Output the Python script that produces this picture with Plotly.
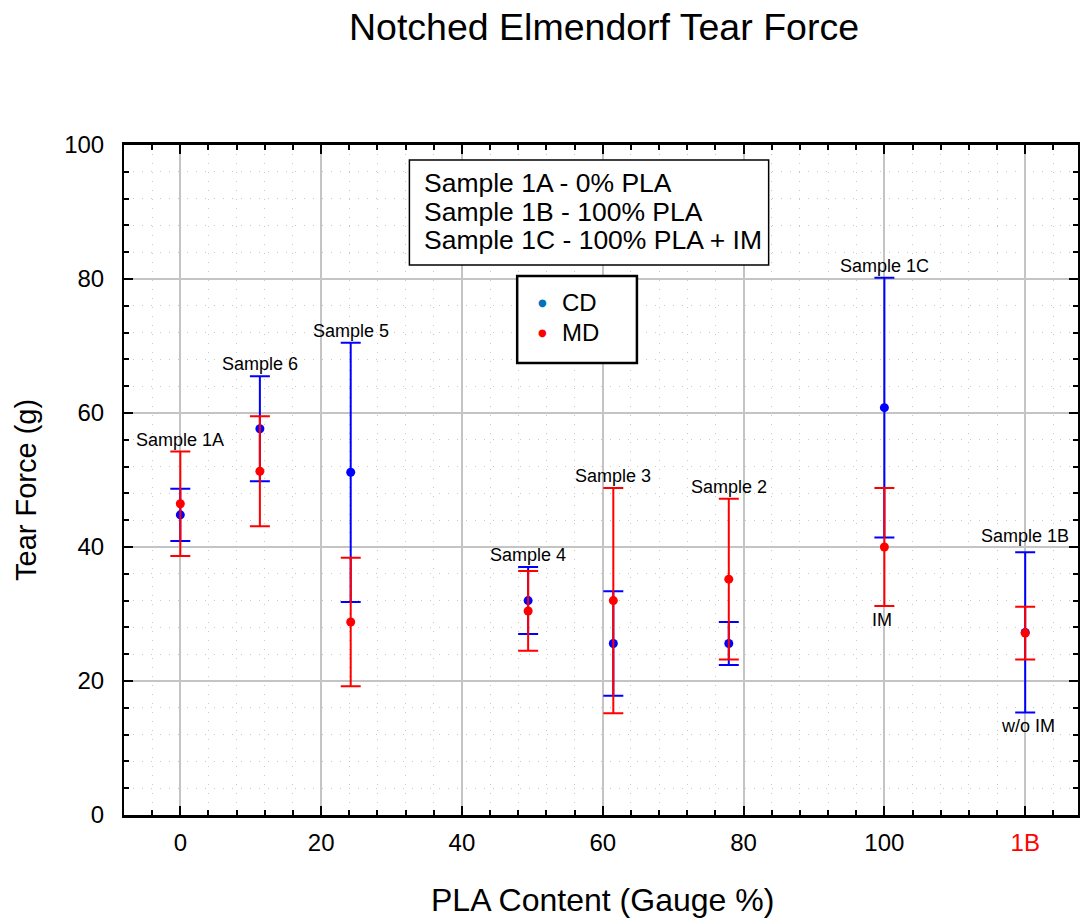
import plotly.graph_objects as go

# ---------------- data ----------------
samples = ["Sample 1A", "Sample 6", "Sample 5", "Sample 4", "Sample 3", "Sample 2", "Sample 1C", "Sample 1B"]
pla_x = [0, 11.3, 24.2, 49.4, 61.5, 77.9, 100, 120]
cd_mean = [44.8, 57.65, 51.15, 32.0, 25.6, 25.6, 60.8, 27.25]
cd_err = [3.9, 7.85, 19.35, 5.0, 7.8, 3.2, 19.4, 11.95]
md_mean = [46.45, 51.3, 28.8, 30.45, 32.0, 35.2, 40.0, 27.15]
md_err = [7.8, 8.2, 9.6, 5.95, 16.8, 12.0, 8.8, 3.95]

x_tickvals = [0, 20, 40, 60, 80, 100, 120]
x_ticktext = ["0", "20", "40", "60", "80", "100", "<span style='color:#ff0000'>1B</span>"]
y_tickvals = [0, 20, 40, 60, 80, 100]

info_lines = ["Sample 1A - 0% PLA", "Sample 1B - 100% PLA", "Sample 1C - 100% PLA + IM"]
legend_names = ["CD", "MD"]
legend_colors = ["#0072bd", "#ff0000"]

FONT = "Liberation Sans, Arial, Helvetica, sans-serif"
BLUE = "#0000ff"
RED = "#ff0000"

fig = go.Figure()

fig.add_trace(go.Scatter(
    x=pla_x, y=cd_mean, mode="markers", name="CD", showlegend=False,
    marker=dict(color=BLUE, size=9),
    error_y=dict(type="data", array=cd_err, visible=True, color=BLUE, thickness=2, width=10),
))
fig.add_trace(go.Scatter(
    x=pla_x, y=md_mean, mode="markers", name="MD", showlegend=False,
    marker=dict(color=RED, size=9),
    error_y=dict(type="data", array=md_err, visible=True, color=RED, thickness=2, width=10),
))

# sample labels above the error bars
for name, x, cm, ce, mm, me in zip(samples, pla_x, cd_mean, cd_err, md_mean, md_err):
    top = max(cm + ce, mm + me)
    fig.add_annotation(x=x, y=top, xref="x", yref="y", text=name, showarrow=False,
                       yanchor="bottom", yshift=(4 if name == "Sample 1B" else 0),
                       font=dict(family=FONT, size=18, color="black"))

# IM / w/o IM labels under the 1C and 1B bars
i_c = samples.index("Sample 1C")
fig.add_annotation(x=pla_x[i_c], y=min(cd_mean[i_c] - cd_err[i_c], md_mean[i_c] - md_err[i_c]),
                   text="IM", showarrow=False, yanchor="top", yshift=-2, xshift=-2,
                   font=dict(family=FONT, size=18, color="black"))
i_b = samples.index("Sample 1B")
fig.add_annotation(x=pla_x[i_b], y=min(cd_mean[i_b] - cd_err[i_b], md_mean[i_b] - md_err[i_b]),
                   text="w/o IM", showarrow=False, yanchor="top", yshift=-2, xshift=3,
                   font=dict(family=FONT, size=18, color="black"))

W, H = 1080, 921
ML, MR, MT, MB = 124, 0, 145, 106
PW, PH = W - ML - MR, H - MT - MB


def px_to_paper(px, py):
    return (px - ML) / PW, (H - MB - py) / PH


# info text box
x0, y0 = px_to_paper(410, 160)
x1, y1 = px_to_paper(770, 265)
fig.add_shape(type="rect", xref="paper", yref="paper", x0=x0, y0=y1, x1=x1, y1=y0,
              line=dict(color="black", width=1.5), fillcolor="white", layer="above")
for i, line in enumerate(info_lines):
    lx, ly = px_to_paper(423, 183 + 28.5 * i)
    fig.add_annotation(xref="paper", yref="paper", x=lx, y=ly, text=line, showarrow=False,
                       xanchor="left", yanchor="middle",
                       font=dict(family=FONT, size=26.5, color="black"))

# legend box (drawn manually)
x0, y0 = px_to_paper(518, 276)
x1, y1 = px_to_paper(638, 363)
fig.add_shape(type="rect", xref="paper", yref="paper", x0=x0, y0=y1, x1=x1, y1=y0,
              line=dict(color="black", width=2.5), fillcolor="white", layer="above")
for i, (nm, col) in enumerate(zip(legend_names, legend_colors)):
    cy = 302 + 30.6 * i
    mx, my = px_to_paper(543, cy)
    fig.add_annotation(xref="paper", yref="paper", x=mx, y=my, text="●", showarrow=False,
                       xanchor="center", yanchor="middle",
                       font=dict(family="DejaVu Sans", size=10, color=col))
    tx, ty = px_to_paper(561, cy)
    fig.add_annotation(xref="paper", yref="paper", x=tx, y=ty, text=nm, showarrow=False,
                       xanchor="left", yanchor="middle",
                       font=dict(family=FONT, size=24, color="black"))

# axis titles
fig.add_annotation(xref="paper", yref="paper", x=(604 - ML) / PW, y=0, yshift=-(900 - 815),
                   text="PLA Content (Gauge %)", showarrow=False, yanchor="middle",
                   font=dict(family=FONT, size=32, color="black"))
fig.add_annotation(xref="paper", yref="paper", x=0, xshift=-(124 - 26), y=(815 - 490) / PH,
                   text="Tear Force (g)", showarrow=False, textangle=-90, xanchor="center",
                   yanchor="middle", font=dict(family=FONT, size=29, color="black"))

fig.update_layout(
    width=W, height=H,
    margin=dict(l=ML, r=MR, t=MT, b=MB),
    paper_bgcolor="white", plot_bgcolor="white",
    font=dict(family=FONT, color="black"),
    title=dict(text="Notched Elmendorf Tear Force", x=604 / W, xanchor="center",
               y=1 - 27 / H, yanchor="middle", yref="container",
               font=dict(family=FONT, size=37.5, color="black")),
    showlegend=False,
    xaxis=dict(
        range=[-8, 127.5], tickvals=x_tickvals, ticktext=x_ticktext,
        showgrid=True, gridcolor="#c4c4c4", gridwidth=1.8,
        showline=True, linecolor="black", linewidth=3, mirror="ticks",
        ticks="inside", ticklen=9, tickwidth=2, tickcolor="black",
        tickfont=dict(family=FONT, size=24, color="black"),
        ticklabelstandoff=4,
        zeroline=False,
        minor=dict(tick0=0, dtick=4, ticks="inside", ticklen=5, tickwidth=1.5, tickcolor="black",
                   showgrid=True, gridcolor="#c8c8c8", griddash="1px,8px", gridwidth=1),
    ),
    yaxis=dict(
        range=[0, 100], tickvals=y_tickvals,
        showgrid=True, gridcolor="#c4c4c4", gridwidth=1.8,
        showline=True, linecolor="black", linewidth=2, mirror="ticks",
        ticks="inside", ticklen=9, tickwidth=2, tickcolor="black",
        tickfont=dict(family=FONT, size=24, color="black"),
        ticklabelstandoff=13,
        zeroline=False,
        minor=dict(tick0=0, dtick=4, ticks="inside", ticklen=5, tickwidth=1.5, tickcolor="black",
                   showgrid=True, gridcolor="#c8c8c8", griddash="1px,8px", gridwidth=1),
    ),
)

fig.write_html("out.html")
